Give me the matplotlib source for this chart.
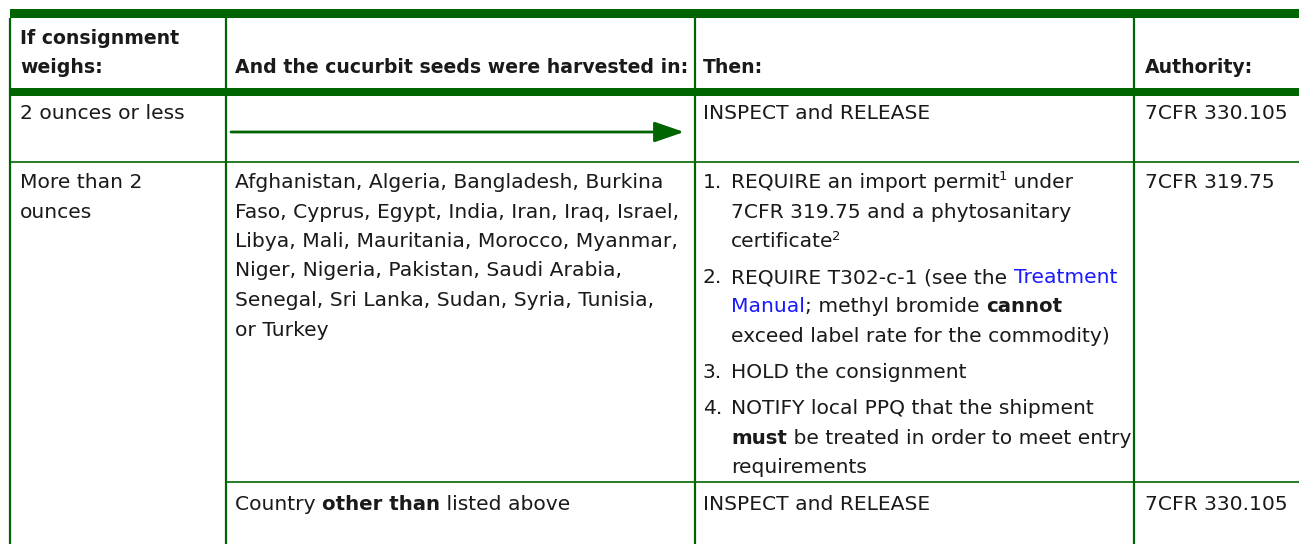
import matplotlib
matplotlib.use("Agg")
import matplotlib.pyplot as plt
from matplotlib.patches import Rectangle

# ---- table content ----
head_weight = ["If consignment", "weighs:"]
head_cols = ["And the cucurbit seeds were harvested in:", "Then:", "Authority:"]
weight_small = "2 ounces or less"
weight_big = ["More than 2", "ounces"]
countries = [
    "Afghanistan, Algeria, Bangladesh, Burkina",
    "Faso, Cyprus, Egypt, India, Iran, Iraq, Israel,",
    "Libya, Mali, Mauritania, Morocco, Myanmar,",
    "Niger, Nigeria, Pakistan, Saudi Arabia,",
    "Senegal, Sri Lanka, Sudan, Syria, Tunisia,",
    "or Turkey",
]
other_country = [("Country ", ""), ("other than", "b"), (" listed above", "")]
release = "INSPECT and RELEASE"
steps = [
    ("1.", [[("REQUIRE an import permit", ""), ("1", "sup"), (" under", "")],
            [("7CFR 319.75 and a phytosanitary", "")],
            [("certificate", ""), ("2", "sup")]]),
    ("2.", [[("REQUIRE T302-c-1 (see the ", ""), ("Treatment", "link")],
            [("Manual", "link"), ("; methyl bromide ", ""), ("cannot", "b")],
            [("exceed label rate for the commodity)", "")]]),
    ("3.", [[("HOLD the consignment", "")]]),
    ("4.", [[("NOTIFY local PPQ that the shipment", "")],
            [("must", "b"), (" be treated in order to meet entry", "")],
            [("requirements", "")]]),
]
authority = ["7CFR 330.105", "7CFR 319.75", "7CFR 330.105"]

# ---- style ----
GREEN = "#006400"
TEXT = "#1a1a1a"
LINK = "#1a1aff"
FS = 14.6
FS_B = 13.6
W, H = 1299, 544

fig = plt.figure(figsize=(W / 100, H / 100), dpi=100)
ax = fig.add_axes([0, 0, 1, 1])
ax.set_xlim(0, W)
ax.set_ylim(H, 0)
ax.axis("off")
renderer = fig.canvas.get_renderer()


def style_kw(style):
    kw = dict(fontsize=FS, color=TEXT)
    if style == "b":
        kw["fontweight"] = "bold"
        kw["fontsize"] = FS - 0.4
    elif style == "link":
        kw["color"] = LINK
    elif style == "sup":
        kw["fontsize"] = FS * 0.65
    return kw


def width(s, kw):
    # bars around the text so spaces at the ends are counted
    t1 = ax.text(0, 0, "|" + s + "|", **kw)
    t2 = ax.text(0, 0, "||", **kw)
    w = t1.get_window_extent(renderer).width - t2.get_window_extent(renderer).width
    t1.remove()
    t2.remove()
    return w


def runs(x, y, parts):
    for s, style in parts:
        kw = style_kw(style)
        if style == "sup":
            ax.text(x - 1, y - 7.5, s, va="baseline", ha="left", **kw)
            x += width(s, kw) - 1
        else:
            ax.text(x, y, s, va="baseline", ha="left", **kw)
            x += width(s, kw)


# ---- grid ----
col_x = [10, 226, 695, 1134]
ax.add_patch(Rectangle((10, 9), W - 10, 9, color=GREEN, lw=0))
ax.add_patch(Rectangle((10, 88), W - 10, 8, color=GREEN, lw=0))
for x in col_x:
    ax.plot([x, x], [18, H], color=GREEN, lw=1.6, solid_capstyle="butt")
ax.plot([10, W], [161.5, 161.5], color=GREEN, lw=1.2)
ax.plot([226, W], [481.5, 481.5], color=GREEN, lw=1.2)

# ---- header ----
pad = [20, 235, 703, 1145]
for i, s in enumerate(head_weight):
    ax.text(pad[0], 44 + 29 * i, s, fontsize=FS_B, fontweight="bold", color=TEXT, va="baseline")
for i, s in enumerate(head_cols):
    ax.text(pad[i + 1], 73, s, fontsize=FS_B, fontweight="bold", color=TEXT, va="baseline")

# ---- row 1 ----
ax.text(pad[0], 119, weight_small, fontsize=FS, color=TEXT, va="baseline")
ax.annotate("", xy=(684, 132), xytext=(231, 132),
            arrowprops=dict(arrowstyle="-|>,head_length=1.3,head_width=0.45",
                            mutation_scale=14, color=GREEN, lw=2, shrinkA=0, shrinkB=0))
ax.text(pad[2], 119, release, fontsize=FS, color=TEXT, va="baseline")
ax.text(pad[3], 119, authority[0], fontsize=FS, color=TEXT, va="baseline")

# ---- row 2 ----
LS = 29.5
for i, s in enumerate(weight_big):
    ax.text(pad[0], 188 + LS * i, s, fontsize=FS, color=TEXT, va="baseline")
for i, s in enumerate(countries):
    ax.text(pad[1], 188 + LS * i, s, fontsize=FS, color=TEXT, va="baseline")
y = 188
for num, lines in steps:
    ax.text(pad[2], y, num, fontsize=FS, color=TEXT, va="baseline")
    for line in lines:
        runs(731, y, line)
        y += LS
    y += 6.5
ax.text(pad[3], 188, authority[1], fontsize=FS, color=TEXT, va="baseline")

# ---- row 3 ----
runs(pad[1], 510, other_country)
ax.text(pad[2], 510, release, fontsize=FS, color=TEXT, va="baseline")
ax.text(pad[3], 510, authority[2], fontsize=FS, color=TEXT, va="baseline")

fig.savefig("out.png", dpi=100)
